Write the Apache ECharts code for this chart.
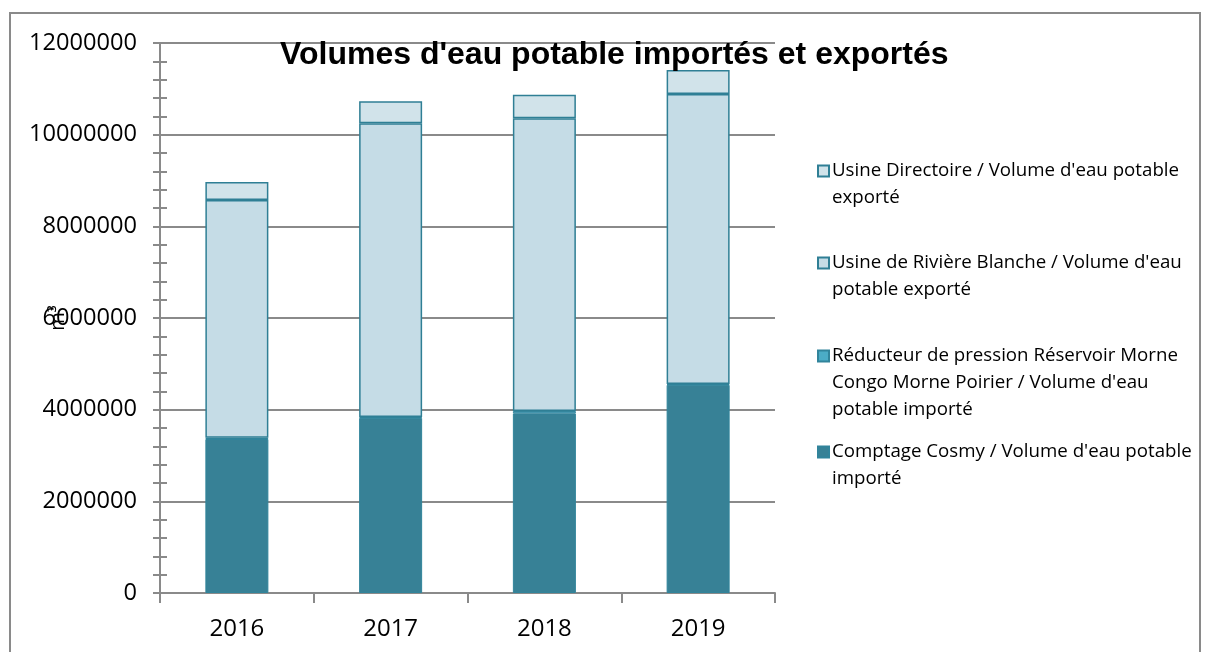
<!DOCTYPE html>
<html><head><meta charset="utf-8">
<script src="https://cdn.jsdelivr.net/npm/echarts@6/dist/echarts.min.js"></script>
<style>html,body{margin:0;padding:0;background:#fff}#c{width:1205px;height:652px}</style>
</head><body><div id="c"></div>
<script>
var categories = ['2016', '2017', '2018', '2019'];
var cosmy = [3360000, 3820000, 3920000, 4540000];
var reducteur = [30000, 20000, 50000, 20000];
var riviere = [5185000, 6410000, 6390000, 6330000];
var directoire = [395000, 480000, 510000, 520000];
var yTicks = [0, 2000000, 4000000, 6000000, 8000000, 10000000, 12000000];
var names = [
  'Comptage Cosmy / Volume d\'eau potable importé',
  'Réducteur de pression Réservoir Morne Congo Morne Poirier / Volume d\'eau potable importé',
  'Usine de Rivière Blanche / Volume d\'eau potable exporté',
  'Usine Directoire / Volume d\'eau potable exporté'
];
var legendText = {};
legendText[names[3]] = 'Usine Directoire / Volume d\'eau potable\nexporté';
legendText[names[2]] = 'Usine de Rivière Blanche / Volume d\'eau\npotable exporté';
legendText[names[1]] = 'Réducteur de pression Réservoir Morne\nCongo Morne Poirier / Volume d\'eau\npotable importé';
legendText[names[0]] = 'Comptage Cosmy / Volume d\'eau potable\nimporté';

var L = 27;
function mkLegend(name, cy, n) {
  var H = (2 * n - 1) * L;
  var pre = '';
  for (var i = 0; i < n - 1; i++) pre += '\n';
  return {
    data: [name], left: 817, top: cy - H / 2, padding: 0,
    itemWidth: 11, itemHeight: 11, itemGap: 0, icon: 'rect',
    selectedMode: false,
    formatter: function (nm) { return pre + legendText[nm]; },
    textStyle: { fontFamily: 'Open Sans', fontSize: 18.7, color: '#000', lineHeight: L, padding: [0, 0, 0, -2] }
  };
}
var fontF = 'Liberation Sans';
var chart = echarts.init(document.getElementById('c'));
var border = { color: '#2F7F95', width: 1.5 };
chart.setOption({
  animation: false,
  title: { text: 'Volumes d\'eau potable importés et exportés', left: 275, top: 34,
    textStyle: { fontFamily: fontF, fontWeight: 'bold', fontSize: 32, color: '#000' } },
  graphic: [{ type: 'rect', shape: { x: 10, y: 13, width: 1190, height: 660 }, style: { fill: 'none', stroke: '#8a8a8a', lineWidth: 2 }, silent: true, z: -1 }],
  legend: [mkLegend(names[3], 171, 2), mkLegend(names[2], 263, 2), mkLegend(names[1], 356, 3), mkLegend(names[0], 452, 2)],
  grid: { left: 160, right: 430, top: 43, bottom: 59, containLabel: false, outerBoundsMode: 'none' },
  xAxis: {
    type: 'category', data: categories,
    axisLine: { lineStyle: { color: '#8a8a8a', width: 2 } },
    axisTick: { show: true, length: 10, lineStyle: { color: '#8a8a8a', width: 2 } },
    axisLabel: { fontFamily: 'Open Sans', fontSize: 24, color: '#000', margin: 24 }
  },
  yAxis: [{
    type: 'value', min: 0, max: 12000000, interval: 2000000,
    name: 'm³', nameLocation: 'middle', nameRotate: 90, nameGap: 92, nameMoveOverlap: false,
    nameTextStyle: { fontFamily: 'Open Sans', fontSize: 20, color: '#000' },
    axisLine: { show: true, lineStyle: { color: '#8a8a8a', width: 2 } },
    axisTick: { show: true, length: 7, lineStyle: { color: '#8a8a8a', width: 2 } },
    minorTick: { show: true, splitNumber: 5, length: 7, lineStyle: { color: '#8a8a8a', width: 2 } },
    axisLabel: { fontFamily: 'Open Sans', fontSize: 23.6, color: '#000', margin: 23,
      formatter: function (v) { return yTicks.indexOf(v) >= 0 ? String(v) : ''; } },
    splitLine: { show: true, lineStyle: { color: '#8a8a8a', width: 2 } }
  }, {
    type: 'value', min: 0, max: 12000000, interval: 2000000, position: 'left', offset: 0,
    axisLine: { show: false },
    axisTick: { show: true, inside: true, length: 7, lineStyle: { color: '#8a8a8a', width: 2 } },
    minorTick: { show: true, splitNumber: 5, length: 7, lineStyle: { color: '#8a8a8a', width: 2 } },
    axisLabel: { show: false }, splitLine: { show: false }
  }],
  series: [
    { name: names[0], type: 'bar', stack: 's', data: cosmy, barWidth: 63,
      itemStyle: { color: '#378196', borderColor: '#31849B', borderWidth: 1 } },
    { name: names[1], type: 'bar', stack: 's', data: reducteur,
      itemStyle: { color: '#4BACC6', borderColor: '#31849B', borderWidth: 1 } },
    { name: names[2], type: 'bar', stack: 's', data: riviere,
      itemStyle: { color: '#C5DCE6', borderColor: border.color, borderWidth: border.width } },
    { name: names[3], type: 'bar', stack: 's', data: directoire,
      itemStyle: { color: '#D1E3EA', borderColor: border.color, borderWidth: border.width } }
  ]
});
</script></body></html>
